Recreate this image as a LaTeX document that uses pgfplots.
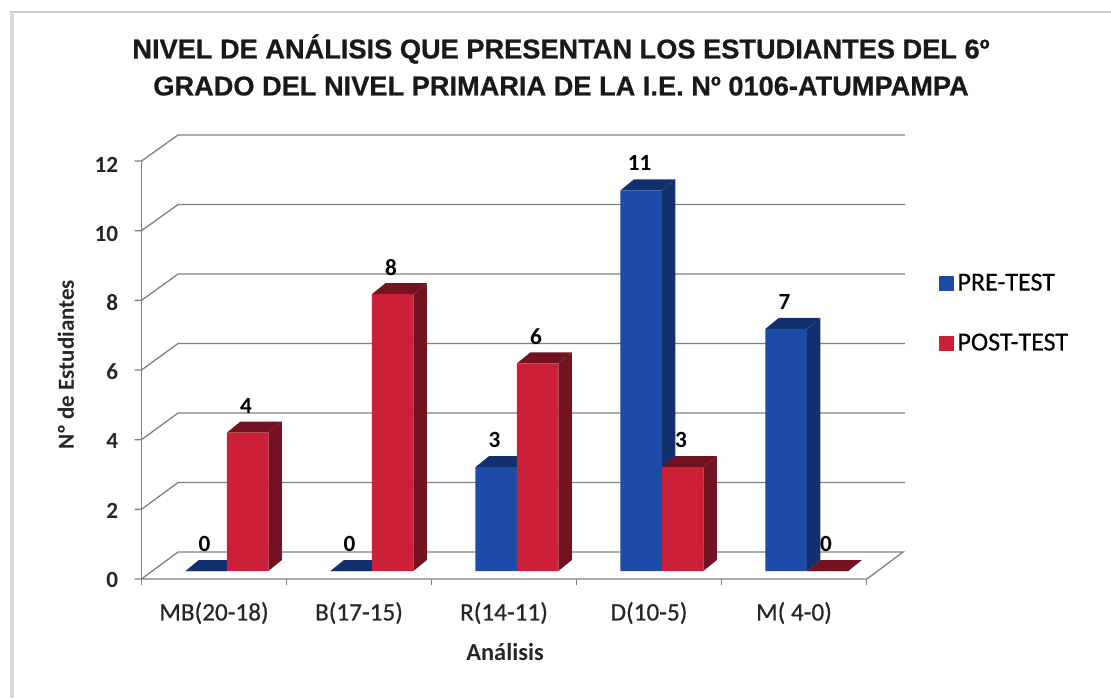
\documentclass[border=0pt]{standalone}
\usepackage{fontspec}
\setmainfont{Carlito}
\newfontfamily\titlefont[BoldFeatures={FakeBold=0.6}]{Liberation Sans}
\newfontfamily\labelfont[FakeBold=0.5]{Carlito}
\usepackage{pgfplots}
\pgfplotsset{compat=1.18}
\definecolor{bluefront}{HTML}{1D4CA8}
\definecolor{blueside}{HTML}{122F6E}
\definecolor{redfront}{HTML}{CB2038}
\definecolor{redside}{HTML}{731322}
\definecolor{gridc}{HTML}{808080}
\definecolor{framec}{HTML}{C9C9C9}
\begin{document}
\begin{tikzpicture}
\path[use as bounding box] (0,0) rectangle (555.5pt,349pt);
\draw[framec,line width=1.2pt] (5pt,349pt) ++(0,-6pt) -- (555.5pt,343pt);
\draw[framec!70,line width=1.6pt] (6pt,343pt) -- (6pt,0);
\begin{axis}[
  at={(70.75pt,63.5pt)}, anchor=south west,
  scale only axis, width=362.5pt, height=207.6pt,
  xmin=-0.5, xmax=4.5, ymin=0, ymax=12,
  clip=false,
  axis line style={draw=none}, tick style={draw=none},
  xtick={0,1,2,3,4},
  xticklabels={MB(20-18),B(17-15),R(14-11),D(10-5),M( 4-0)},
  ytick={0,2,4,6,8,10,12},
  /pgf/number format/assume math mode=true,
  tick label style={inner sep=0pt, text=black!85},
  yticklabel style={font=\fontsize{11.6}{13}\selectfont\bfseries, anchor=east, xshift=-11.5pt, yshift=-4.3pt},
  xticklabel style={font=\labelfont\fontsize{12.6}{14}\selectfont, anchor=center, yshift=-21pt},
  legend style={at={(axis cs:4.994,8.72)}, anchor=north west, draw=none, fill=none,
    font=\labelfont\fontsize{13}{14}\selectfont, row sep=16pt, inner sep=0pt,
    /tikz/every even column/.append style={column sep=0pt}},
  legend cell align=left,
  legend image code/.code={\fill[#1,draw=none] (0pt,-3.75pt) rectangle (7.5pt,3.75pt);},
  every node near coord/.append style={font=\fontsize{11.6}{13}\selectfont\bfseries, inner sep=0pt, anchor=center, yshift=13.5pt, text=black},
]
% walls and floor
\pgfplotsset{wall/.style={forget plot, draw=gridc, line width=0.65pt, mark=none}}
\addplot[wall] coordinates {(-0.548,1.782)(-0.5,1.782)(-0.248,2.558)(4.766,2.558)};
\addplot[wall] coordinates {(-0.548,3.796)(-0.5,3.796)(-0.248,4.566)(4.766,4.566)};
\addplot[wall] coordinates {(-0.548,5.809)(-0.5,5.809)(-0.248,6.575)(4.766,6.575)};
\addplot[wall] coordinates {(-0.548,7.822)(-0.5,7.822)(-0.248,8.583)(4.766,8.583)};
\addplot[wall] coordinates {(-0.548,9.836)(-0.5,9.836)(-0.248,10.592)(4.766,10.592)};
\addplot[wall] coordinates {(-0.548,11.849)(-0.5,11.849)(-0.248,12.601)(4.766,12.601)};
\addplot[wall] coordinates {(-0.548,-0.231)(4.503,-0.231)(4.752,0.549)(-0.248,0.549)(-0.5,-0.231)};
\addplot[wall] coordinates {(-0.5,-0.231)(-0.5,11.849)};
\addplot[wall] coordinates {(-0.5,-0.231)(-0.5,-0.405)};
\addplot[wall] coordinates {(0.5,-0.231)(0.5,-0.405)};
\addplot[wall] coordinates {(1.5,-0.231)(1.5,-0.405)};
\addplot[wall] coordinates {(2.5,-0.231)(2.5,-0.405)};
\addplot[wall] coordinates {(3.5,-0.231)(3.5,-0.405)};
\addplot[wall] coordinates {(4.5,-0.231)(4.5,-0.405)};
% PRE-TEST depth faces: tops and sides
\pgfplotsset{deepb/.style={forget plot, fill=blueside, draw=none, mark=none},
             deepr/.style={forget plot, fill=redside, draw=none, mark=none}}
\addplot[deepb] coordinates {(-0.197,0)(0.089,0)(0.182,0.318)(-0.104,0.318)} --cycle;
\addplot[deepb] coordinates {(0.803,0)(1.089,0)(1.182,0.318)(0.896,0.318)} --cycle;
\addplot[deepb] coordinates {(1.803,3)(2.089,3)(2.182,3.318)(1.896,3.318)} --cycle;
\addplot[deepb] coordinates {(2.089,0)(2.182,0.318)(2.182,3.318)(2.089,3)} --cycle;
\addplot[deepb] coordinates {(2.803,11)(3.089,11)(3.182,11.318)(2.896,11.318)} --cycle;
\addplot[deepb] coordinates {(3.089,0)(3.182,0.318)(3.182,11.318)(3.089,11)} --cycle;
\addplot[deepb] coordinates {(3.803,7)(4.089,7)(4.182,7.318)(3.896,7.318)} --cycle;
\addplot[deepb] coordinates {(4.089,0)(4.182,0.318)(4.182,7.318)(4.089,7)} --cycle;
% PRE-TEST fronts
\addplot[ybar, bar width=0.286, bar shift=-0.054, fill=bluefront, draw=none,
  nodes near coords, nodes near coords style={xshift=-4.7pt}] coordinates {(0,0)(1,0)(2,3)(3,11)(4,7)};
\addlegendentry{PRE-TEST}
% POST-TEST depth faces
\addplot[deepr] coordinates {(0.089,4)(0.375,4)(0.468,4.318)(0.182,4.318)} --cycle;
\addplot[deepr] coordinates {(0.375,0)(0.468,0.318)(0.468,4.318)(0.375,4)} --cycle;
\addplot[deepr] coordinates {(1.089,8)(1.375,8)(1.468,8.318)(1.182,8.318)} --cycle;
\addplot[deepr] coordinates {(1.375,0)(1.468,0.318)(1.468,8.318)(1.375,8)} --cycle;
\addplot[deepr] coordinates {(2.089,6)(2.375,6)(2.468,6.318)(2.182,6.318)} --cycle;
\addplot[deepr] coordinates {(2.375,0)(2.468,0.318)(2.468,6.318)(2.375,6)} --cycle;
\addplot[deepr] coordinates {(3.089,3)(3.375,3)(3.468,3.318)(3.182,3.318)} --cycle;
\addplot[deepr] coordinates {(3.375,0)(3.468,0.318)(3.468,3.318)(3.375,3)} --cycle;
\addplot[deepr] coordinates {(4.089,0)(4.375,0)(4.468,0.318)(4.182,0.318)} --cycle;
% POST-TEST fronts
\addplot[ybar, bar width=0.286, bar shift=0.232, fill=redfront, draw=none,
  nodes near coords, nodes near coords style={xshift=16pt}] coordinates {(0,4)(1,8)(2,6)(3,3)(4,0)};
\addlegendentry{POST-TEST}
\end{axis}
\node[font=\titlefont\fontsize{13.6}{18.5}\selectfont\bfseries, align=center, text=black!90, inner sep=0pt] at (280.5pt,316.5pt)
  {NIVEL DE ANÁLISIS QUE PRESENTAN LOS ESTUDIANTES DEL 6º\\GRADO DEL NIVEL PRIMARIA DE LA I.E. Nº 0106-ATUMPAMPA};
\node[font=\fontsize{11.5}{12}\selectfont\bfseries, rotate=90, inner sep=0pt, text=black!85] at (33pt,166.5pt) {Nº de Estudiantes};
\node[font=\fontsize{12.2}{14}\selectfont\bfseries, inner sep=0pt, text=black!85] at (252.5pt,23pt) {Análisis};
\end{tikzpicture}
\end{document}
